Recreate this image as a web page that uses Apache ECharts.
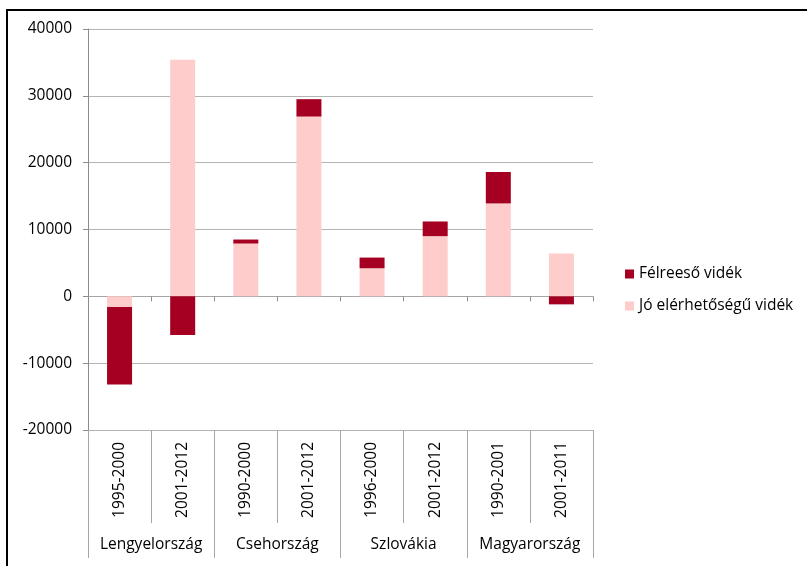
<!DOCTYPE html>
<html>
<head>
<meta charset="utf-8">
<script src="https://cdn.jsdelivr.net/npm/echarts@6/dist/echarts.min.js"></script>
<style>html,body{margin:0;padding:0;background:#fff;}#c{width:807px;height:566px;}</style>
</head>
<body>
<div id="c"></div>
<script>
const periods = ['1995-2000','2001-2012','1990-2000','2001-2012','1996-2000','2001-2012','1990-2001','2001-2011'];
const countries = ['Lengyelország','Csehország','Szlovákia','Magyarország'];
const joName = 'Jó elérhetőségű vidék';
const felName = 'Félreeső vidék';
const joValues = [-1600, 35400, 7900, 26900, 4200, 9000, 13900, 6400];
const felValues = [-11600, -5800, 600, 2600, 1600, 2200, 4700, -1200];
const yTicks = {min: -20000, max: 40000, interval: 10000};

const FONT = 'Open Sans';
const chart = echarts.init(document.getElementById('c'), null, {renderer: 'canvas'});
chart.setOption({
  animation: false,
  textStyle: {fontFamily: FONT},
  grid: {left: 88, right: 214, top: 29, bottom: 136},
  graphic: [{
    type: 'rect', shape: {x: 7, y: 10, width: 900, height: 700},
    style: {fill: 'none', stroke: '#000', lineWidth: 2}, silent: true, z: 100
  }],
  legend: {
    orient: 'vertical', left: 620, top: 261,
    data: [felName, joName],
    icon: 'rect', itemWidth: 9, itemHeight: 9, itemGap: 16, itemStyle: {borderWidth: 0},
    textStyle: {fontFamily: FONT, fontSize: 15.5, color: '#000'}
  },
  xAxis: [
    {
      type: 'category', data: periods, position: 'bottom',
      axisLine: {show: true, onZero: true, lineStyle: {color: '#A6A6A6', width: 1}},
      axisTick: {show: true, length: 5, interval: 0, lineStyle: {color: '#8C8C8C'}},
      axisLabel: {show: false}, splitLine: {show: false}
    },
    {
      type: 'category', data: periods, position: 'bottom',
      axisLine: {show: false, onZero: false},
      axisTick: {show: true, length: 93, interval: 0, lineStyle: {color: '#A6A6A6'}},
      axisLabel: {show: true, interval: 0, rotate: 90, margin: 12, fontSize: 15.5, color: '#000', fontFamily: FONT},
      splitLine: {show: false}
    },
    {
      type: 'category', data: countries, position: 'bottom',
      axisLine: {show: false, onZero: false},
      axisTick: {show: true, length: 128, interval: 0, lineStyle: {color: '#A6A6A6'}},
      axisLabel: {show: true, interval: 0, margin: 107, fontSize: 15.5, color: '#000', fontFamily: FONT},
      splitLine: {show: false}
    }
  ],
  yAxis: {
    type: 'value', min: yTicks.min, max: yTicks.max, interval: yTicks.interval,
    axisLine: {show: true, lineStyle: {color: '#8C8C8C'}},
    axisTick: {show: true, length: 5, lineStyle: {color: '#8C8C8C'}},
    axisLabel: {margin: 16, fontSize: 15.5, color: '#000', fontFamily: FONT,
                formatter: function (v) { return String(v); }},
    splitLine: {show: true, lineStyle: {color: '#B3B3B3', width: 1}}
  },
  series: [
    {name: joName, type: 'bar', stack: 'a', xAxisIndex: 0, data: joValues, barWidth: 25,
     itemStyle: {color: '#FFCCCC'}},
    {name: felName, type: 'bar', stack: 'a', xAxisIndex: 0, data: felValues, barWidth: 25,
     itemStyle: {color: '#A50021'}}
  ]
});
</script>
</body>
</html>
